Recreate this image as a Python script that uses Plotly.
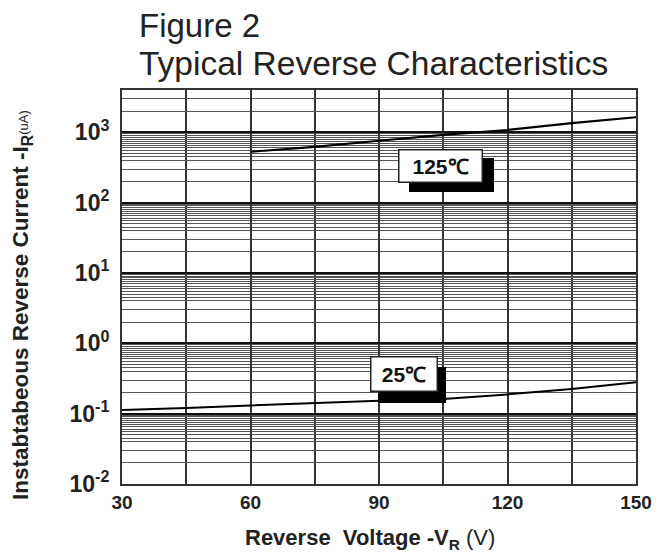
import math
import plotly.graph_objects as go

# ---- data ----
v_25 = [30, 45, 60, 75, 90, 105, 120, 135, 150]
i_25 = [0.113, 0.120, 0.131, 0.143, 0.153, 0.162, 0.188, 0.225, 0.280]

v_125 = [60, 75, 90, 105, 120, 135, 150]
i_125 = [530, 620, 760, 920, 1080, 1350, 1640]

x_ticks = [30, 60, 90, 120, 150]
x_minor = [45, 75, 105, 135]
y_ticks = [0.01, 0.1, 1, 10, 100, 1000]
y_ticktext = ["<b>10<sup>-2</sup></b>", "<b>10<sup>-1</sup></b>", "<b>10<sup>0</sup></b>",
              "<b>10<sup>1</sup></b>", "<b>10<sup>2</sup></b>", "<b>10<sup>3</sup></b>"]
minor_mult = [2, 3, 4, 4.5, 5, 5.5, 6, 6.5, 7, 7.5, 8, 8.5, 9, 9.5]
y_max = 4000

y_minor = [m * 10 ** d for d in range(-2, 4) for m in minor_mult if m * 10 ** d < y_max]

FONT = "Liberation Sans, Arial, sans-serif"

fig = go.Figure()
fig.add_trace(go.Scatter(x=v_25, y=i_25, mode="lines",
                         line=dict(color="black", width=2), showlegend=False))
fig.add_trace(go.Scatter(x=v_125, y=i_125, mode="lines",
                         line=dict(color="black", width=2.2), showlegend=False))

fig.update_layout(
    width=665, height=554,
    margin=dict(l=122, r=29, t=90, b=70),
    paper_bgcolor="white", plot_bgcolor="white",
    font=dict(family=FONT, color="#222"),
    showlegend=False,
)

fig.update_xaxes(
    range=[30, 150], tickmode="array", tickvals=x_ticks,
    ticktext=["<b>%d</b>" % t for t in x_ticks],
    tickfont=dict(family=FONT, size=19, color="#222"),
    showgrid=True, gridcolor="#333", gridwidth=2,
    minor=dict(tickmode="array", tickvals=x_minor, showgrid=True,
               gridcolor="#333", gridwidth=2, ticks=""),
    showline=True, linecolor="#333", linewidth=2, mirror=True,
    ticks="", ticklabelstandoff=0, zeroline=False,
)
fig.update_yaxes(
    type="log", range=[-2, math.log10(y_max)],
    tickmode="array", tickvals=y_ticks, ticktext=y_ticktext,
    tickfont=dict(family=FONT, size=23, color="#222"),
    showgrid=True, gridcolor="#111", gridwidth=1.6,
    minor=dict(tickmode="array", tickvals=y_minor, showgrid=True,
               gridcolor="#555", gridwidth=1, ticks=""),
    showline=True, linecolor="#333", linewidth=2, mirror=True,
    ticks="", ticklabelstandoff=6, zeroline=False,
)

# titles
fig.add_annotation(text="Figure 2", xref="paper", yref="paper",
                   x=(137 - 122) / 514, y=1 + (90 - 26) / 394,
                   xanchor="left", yanchor="middle", showarrow=False,
                   font=dict(family=FONT, size=33, color="#222"))
fig.add_annotation(text="Typical Reverse Characteristics", xref="paper", yref="paper",
                   x=(137 - 122) / 514, y=1 + (90 - 63) / 394,
                   xanchor="left", yanchor="middle", showarrow=False,
                   font=dict(family=FONT, size=33.5, color="#222"))

# axis titles
fig.add_annotation(text="<b>Reverse&nbsp;&nbsp;Voltage -V<sub>R</sub></b> (V)", xref="paper", yref="paper",
                   x=(370 - 122) / 514, y=-(539 - 484) / 394,
                   xanchor="center", yanchor="middle", showarrow=False,
                   font=dict(family=FONT, size=22, color="#222"))
fig.add_annotation(text="<b>Instabtabeous Reverse Current -I<sub>R</sub></b><span style='font-size:13px'>(uA)</span>",
                   xref="paper", yref="paper",
                   x=-(122 - 22) / 514, y=(484 - 305) / 394,
                   xanchor="center", yanchor="middle", textangle=-90, showarrow=False,
                   font=dict(family=FONT, size=22.5, color="#222"))

# curve labels with shadow
labels = [("125℃", 104.3, 2.528, 80, 29, 11, -9),
          ("25℃", 95.8, -0.443, 63, 31, 8, -11)]
for txt, lx, ly, w, h, dx, dy in labels:
    fig.add_annotation(text="&nbsp;", x=lx, y=ly, xref="x", yref="y",
                       showarrow=False, width=w, height=h, bgcolor="black",
                       bordercolor="black", borderwidth=1.5, borderpad=1,
                       xshift=dx, yshift=dy,
                       font=dict(family=FONT, size=21, color="black"))
    fig.add_annotation(text="<b>%s</b>" % txt, x=lx, y=ly, xref="x", yref="y",
                       showarrow=False, width=w, height=h, bgcolor="white",
                       bordercolor="#222", borderwidth=1.5, borderpad=1,
                       font=dict(family=FONT, size=21, color="#111"))

fig.write_html("out.html", config={"displayModeBar": False},
               post_script="document.body.style.margin='0';")
